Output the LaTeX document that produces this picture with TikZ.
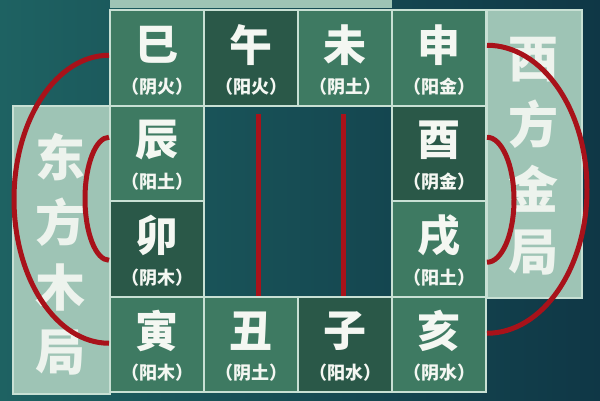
\documentclass[tikz,border=0pt]{standalone}
\usepackage{fontspec}
\usepackage{tikz}
\usetikzlibrary{positioning}
\newfontfamily\cjk{Noto Sans CJK SC}
\definecolor{bgleft}{RGB}{30,98,98}
\definecolor{bgright}{RGB}{15,55,70}
\definecolor{cellmid}{RGB}{62,122,98}
\definecolor{celldark}{RGB}{42,88,72}
\definecolor{panelc}{RGB}{158,196,181}
\definecolor{gridline}{RGB}{200,224,212}
\definecolor{arcred}{RGB}{168,18,26}
\definecolor{chartext}{RGB}{244,247,242}
\tikzset{
  branch/.style={rectangle, draw=gridline, line width=2pt, minimum width=94pt, minimum height=95.5pt, inner sep=0pt},
  bigchar/.style={text=chartext, inner sep=0pt, font=\cjk\bfseries\fontsize{43}{43}\selectfont},
  smallchar/.style={text=chartext, inner sep=0pt, font=\cjk\bfseries\fontsize{18}{18}\selectfont},
  panel/.style={rectangle, fill=panelc, draw=gridline, line width=2pt, inner sep=0pt},
  panelchar/.style={text=chartext!92!panelc, inner sep=0pt, font=\cjk\bfseries\fontsize{50}{50}\selectfont},
  redarc/.style={draw=arcred, line width=5pt}
}
\begin{document}
\begin{tikzpicture}[x=1pt,y=1pt]
\useasboundingbox (0,0) rectangle (600,400);
\shade[left color=bgleft, right color=bgright] (0,0) rectangle (600,400);
\fill[panelc] (110,392) rectangle (392,400);
% side panels
\node[panel, minimum width=97pt, minimum height=288pt] (east) at (61.5,150) {};
\node[panel, minimum width=95pt, minimum height=288pt] (west) at (534,246) {};
\foreach \z [count=\i] in {东,方,木,局}
  \node[panelchar] (dong\i) at (60,{243-65.3*(\i-1)}) {\z};
\foreach \z [count=\i] in {西,方,金,局}
  \node[panelchar] (xi\i) at (533,{340-64.3*(\i-1)}) {\z};
% the twelve branches
\foreach \n/\col/\row/\f/\z/\l in {si/0/0/cellmid/巳/阴火, wu/1/0/celldark/午/阳火, wei/2/0/cellmid/未/阴土, shen/3/0/cellmid/申/阳金,
  chen/0/1/cellmid/辰/阳土, you/3/1/celldark/酉/阴金, mao/0/2/celldark/卯/阴木, xu/3/2/cellmid/戌/阳土,
  yin/0/3/cellmid/寅/阳木, chou/1/3/cellmid/丑/阴土, zi/2/3/celldark/子/阳水, hai/3/3/cellmid/亥/阴水} {
  \node[branch, fill=\f] (\n) at ({157+94*\col},{342.25-95.5*\row}) {};
  \node[bigchar] (\n-z) at ([yshift=13pt]\n.center) {\z};
  \node[smallchar] (\n-l) at ([yshift=-28.5pt]\n.center) {（\l）};
}
% red arcs
\draw[redarc] ([yshift=2.5pt]si.west) arc[start angle=90, end angle=270, x radius=95pt, y radius=144pt];
\draw[redarc] ([yshift=16pt]chen.west) arc[start angle=90, end angle=270, x radius=24pt, y radius=61.5pt];
\draw[redarc] ([yshift=12.5pt]shen.east) arc[start angle=90, end angle=-90, x radius=100pt, y radius=144pt];
\draw[redarc] ([yshift=16pt]you.east) arc[start angle=90, end angle=-90, x radius=27pt, y radius=62.5pt];
\draw[redarc] ([shift={(7pt,-7pt)}]wu.south) -- ([xshift=7pt]chou.north);
\draw[redarc] ([shift={(-2pt,-7pt)}]wei.south) -- ([xshift=-2pt]zi.north);
\end{tikzpicture}
\end{document}
